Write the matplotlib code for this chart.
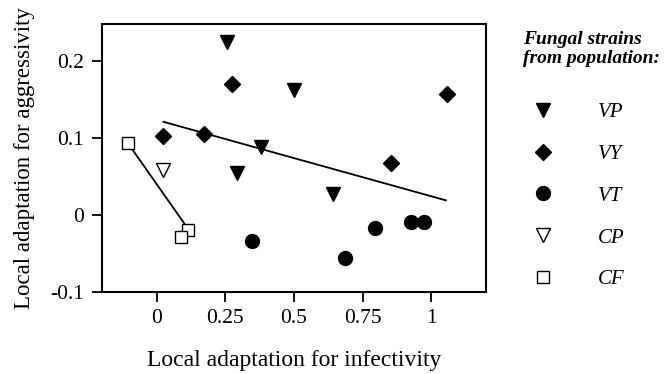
import matplotlib.pyplot as plt

plt.rcParams['font.family'] = ['Liberation Serif', 'DejaVu Serif']

# values
vp_x = [0.257, 0.499, 0.378, 0.291, 0.642]
vp_y = [0.225, 0.162, 0.088, 0.054, 0.027]
vy_x = [0.022, 0.274, 0.172, 0.854, 1.057]
vy_y = [0.103, 0.170, 0.105, 0.068, 0.157]
vt_x = [0.347, 0.687, 0.795, 0.925, 0.973]
vt_y = [-0.034, -0.056, -0.017, -0.009, -0.009]
cp_x = [0.024]
cp_y = [0.059]
cf_x = [-0.105, 0.113, 0.087]
cf_y = [0.093, -0.019, -0.029]

# fitted lines (end points)
fit_v_x = [0.024, 1.054]
fit_v_y = [0.121, 0.019]
fit_c_x = [-0.105, 0.100]
fit_c_y = [0.093, -0.011]

fig = plt.figure(figsize=(6.68, 3.74), dpi=100)
ax = fig.add_axes([0.1527, 0.2193, 0.5748, 0.7165])

ax.plot(fit_v_x, fit_v_y, color='black', lw=1.3, zorder=1)
ax.plot(fit_c_x, fit_c_y, color='black', lw=1.3, zorder=1)

ax.plot(vp_x, vp_y, 'v', color='black', ms=10, ls='none', label='VP')
ax.plot(vy_x, vy_y, 'D', color='black', ms=8.5, ls='none', label='VY')
ax.plot(vt_x, vt_y, 'o', color='black', ms=10, ls='none', label='VT')
ax.plot(cp_x, cp_y, 'v', mfc='white', mec='black', mew=1.0, ms=10, ls='none', label='CP')
ax.plot(cf_x, cf_y, 's', mfc='white', mec='black', mew=1.0, ms=9, ls='none', label='CF', zorder=3)

ax.set_xlim(-0.2, 1.2)
ax.set_ylim(-0.1, 0.248)
ax.set_xticks([0, 0.25, 0.5, 0.75, 1])
ax.set_xticklabels(['0', '0.25', '0.5', '0.75', '1'])
ax.set_yticks([-0.1, 0, 0.1, 0.2])
ax.set_yticklabels(['-0.1', '0', '0.1', '0.2'])
ax.tick_params(direction='out', length=7, width=1.3, labelsize=15.5)
ax.tick_params(axis='x', pad=5)
ax.tick_params(axis='y', pad=6)
for s in ax.spines.values():
    s.set_linewidth(1.5)

ax.set_xlabel('Local adaptation for infectivity', fontsize=17, labelpad=16)
ax.set_ylabel('Local adaptation for aggressivity', fontsize=16.5, labelpad=11)

fig.text(523 / 668, 1 - 31 / 374, 'Fungal strains\nfrom population:',
         ha='left', va='top', fontsize=14, fontstyle='italic',
         fontweight='bold', linespacing=1.15)

fig.legend(loc='upper left', bbox_to_anchor=(524 / 668, 1 - 94 / 374), frameon=False,
           prop={'style': 'italic', 'size': 15}, labelspacing=1.07,
           handlelength=1.0, handletextpad=2.14, borderaxespad=0)

fig.savefig('out.png', dpi=100)
